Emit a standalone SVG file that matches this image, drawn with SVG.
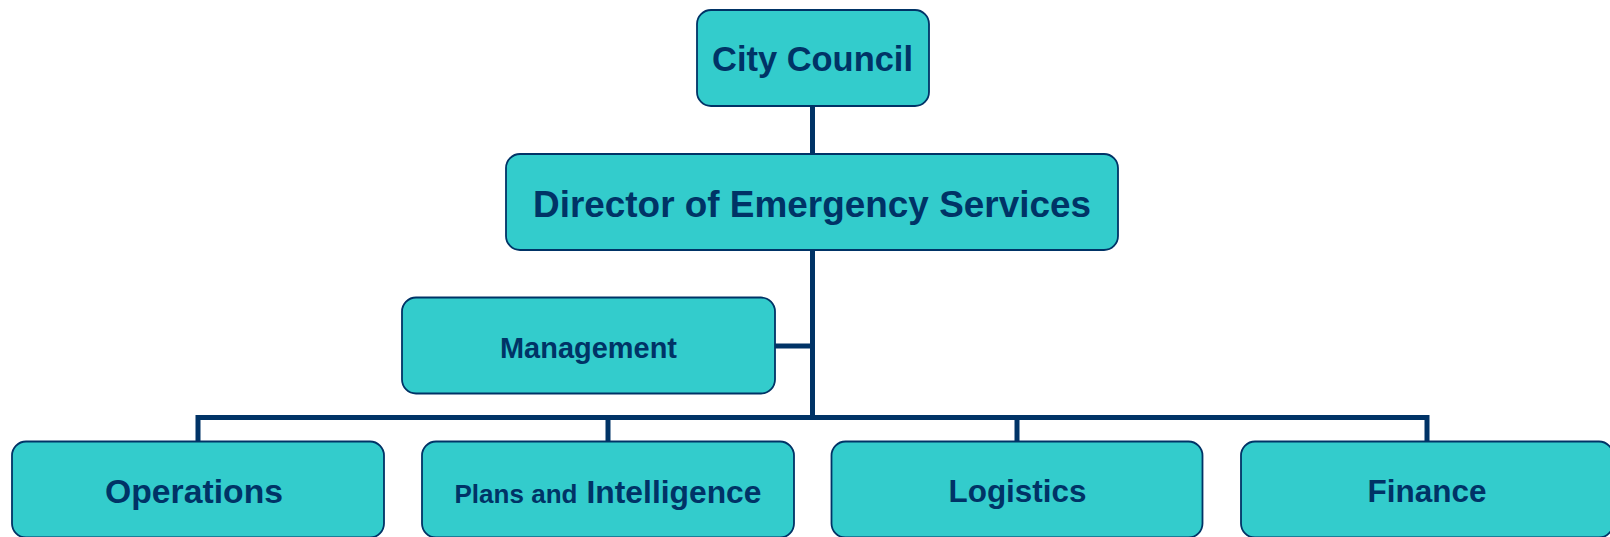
<svg xmlns="http://www.w3.org/2000/svg" width="1610" height="537" viewBox="0 0 1610 537">
<style>
.box{fill:#33CCCC;stroke:#003366;stroke-width:1.8}
.t{font-family:"Liberation Sans",Arial,sans-serif;font-weight:bold;fill:#003366;text-anchor:middle}
.c{fill:none;stroke:#003366;stroke-width:5}
</style>
<rect width="1610" height="537" fill="#FFFFFF"/>
<g id="connectors">
<line class="c" x1="812.5" y1="106" x2="812.5" y2="154"/>
<line class="c" x1="812.5" y1="250" x2="812.5" y2="418"/>
<line class="c" x1="775" y1="346" x2="812.5" y2="346"/>
<path class="c" d="M198,442 V417.5 H1427 V442"/>
<line class="c" x1="608" y1="417.5" x2="608" y2="442"/>
<line class="c" x1="1017" y1="417.5" x2="1017" y2="442"/>
</g>
<g id="city-council">
<rect class="box" x="697" y="10" width="232" height="96" rx="14"/>
<text class="t" x="812.5" y="70.5" font-size="34.5" textLength="201" lengthAdjust="spacingAndGlyphs">City Council</text>
</g>
<g id="director">
<rect class="box" x="506" y="154" width="612" height="96" rx="14"/>
<text class="t" x="812" y="217" font-size="37" textLength="558" lengthAdjust="spacingAndGlyphs">Director of Emergency Services</text>
</g>
<g id="management">
<rect class="box" x="402" y="297.5" width="373" height="96" rx="14"/>
<text class="t" x="588.5" y="357.5" font-size="29" textLength="177" lengthAdjust="spacingAndGlyphs">Management</text>
</g>
<g id="operations">
<rect class="box" x="12" y="441.5" width="372" height="96" rx="14"/>
<text class="t" x="194" y="502.5" font-size="33" textLength="178" lengthAdjust="spacingAndGlyphs">Operations</text>
</g>
<g id="plans">
<rect class="box" x="422" y="441.5" width="372" height="96" rx="14"/>
<text class="t" x="454.5" y="502.5" font-size="26" style="text-anchor:start" textLength="123" lengthAdjust="spacingAndGlyphs">Plans and</text>
<text class="t" x="586.5" y="502.5" font-size="31.5" style="text-anchor:start" textLength="175" lengthAdjust="spacingAndGlyphs">Intelligence</text>
</g>
<g id="logistics">
<rect class="box" x="831.5" y="441.5" width="371" height="96" rx="14"/>
<text class="t" x="1017.5" y="502" font-size="31.5" textLength="138" lengthAdjust="spacingAndGlyphs">Logistics</text>
</g>
<g id="finance">
<rect class="box" x="1241" y="441.5" width="372" height="96" rx="14"/>
<text class="t" x="1427" y="501.5" font-size="31.5" textLength="119" lengthAdjust="spacingAndGlyphs">Finance</text>
</g>
</svg>
